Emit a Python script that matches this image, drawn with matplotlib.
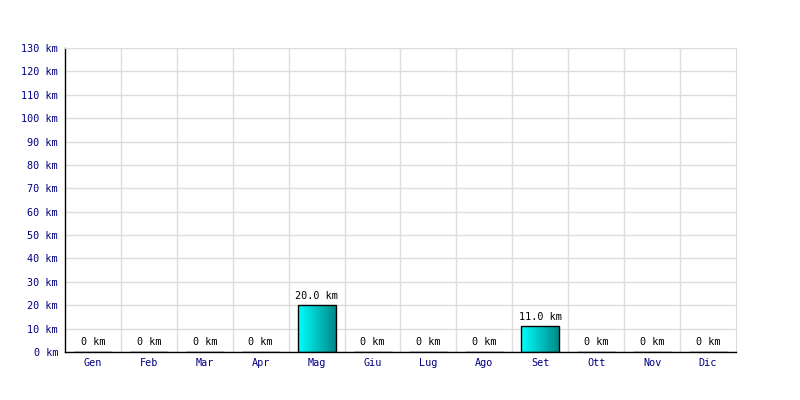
import numpy as np
import matplotlib.pyplot as plt
from matplotlib.colors import LinearSegmentedColormap

# data
months = ["Gen", "Feb", "Mar", "Apr", "Mag", "Giu", "Lug", "Ago", "Set", "Ott", "Nov", "Dic"]
km = [0, 0, 0, 0, 20.0, 0, 0, 0, 11.0, 0, 0, 0]
yticks = list(range(0, 131, 10))

plt.rcParams['font.family'] = ['DejaVu Sans Mono']

fig = plt.figure(figsize=(8, 4), dpi=100)
ax = fig.add_axes([65/800, 48/400, 671/800, 304/400])

x = np.arange(len(months))
bars = ax.bar(x, km, width=0.68, color="none", edgecolor="black", linewidth=1, zorder=3)

# horizontal gradient fill, cyan -> teal
cmap = LinearSegmentedColormap.from_list("cy", ["#00ffff", "#008585"])
grad = np.linspace(0, 1, 256).reshape(1, -1)
for b in bars:
    h = b.get_height()
    if h > 0:
        x0 = b.get_x()
        im = ax.imshow(grad, cmap=cmap, aspect="auto", zorder=2,
                       extent=[x0, x0 + b.get_width(), 0, h])
        im.set_clip_path(b)

for xi, v in zip(x, km):
    lab = "0 km" if v == 0 else f"{v:.1f} km"
    ax.text(xi, v + 2, lab, ha="center", va="bottom", fontsize=7.3, color="black", zorder=4)

ax.set_xlim(-0.5, len(months) - 0.5)
ax.set_ylim(0, 130)
ax.set_yticks(yticks)
ax.set_yticklabels([f"{t} km" for t in yticks], color="#000080", fontsize=7.3)
ax.set_xticks(x)
ax.set_xticklabels(months, color="#000080", fontsize=7.3)
ax.set_xticks(np.arange(0.5, len(months) - 0.5), minor=True)
ax.tick_params(axis="y", which="both", length=0, pad=5)
ax.tick_params(axis="x", which="both", length=0, pad=4)
ax.grid(True, axis="y", color="#dddddd", linewidth=1, zorder=0)
ax.grid(True, axis="x", which="minor", color="#dddddd", linewidth=1, zorder=0)
ax.set_axisbelow(True)

for s in ["top", "right"]:
    ax.spines[s].set_color("#dddddd")
for s in ["left", "bottom"]:
    ax.spines[s].set_color("black")
    ax.spines[s].set_linewidth(1)

fig.savefig("out.png", dpi=100)
